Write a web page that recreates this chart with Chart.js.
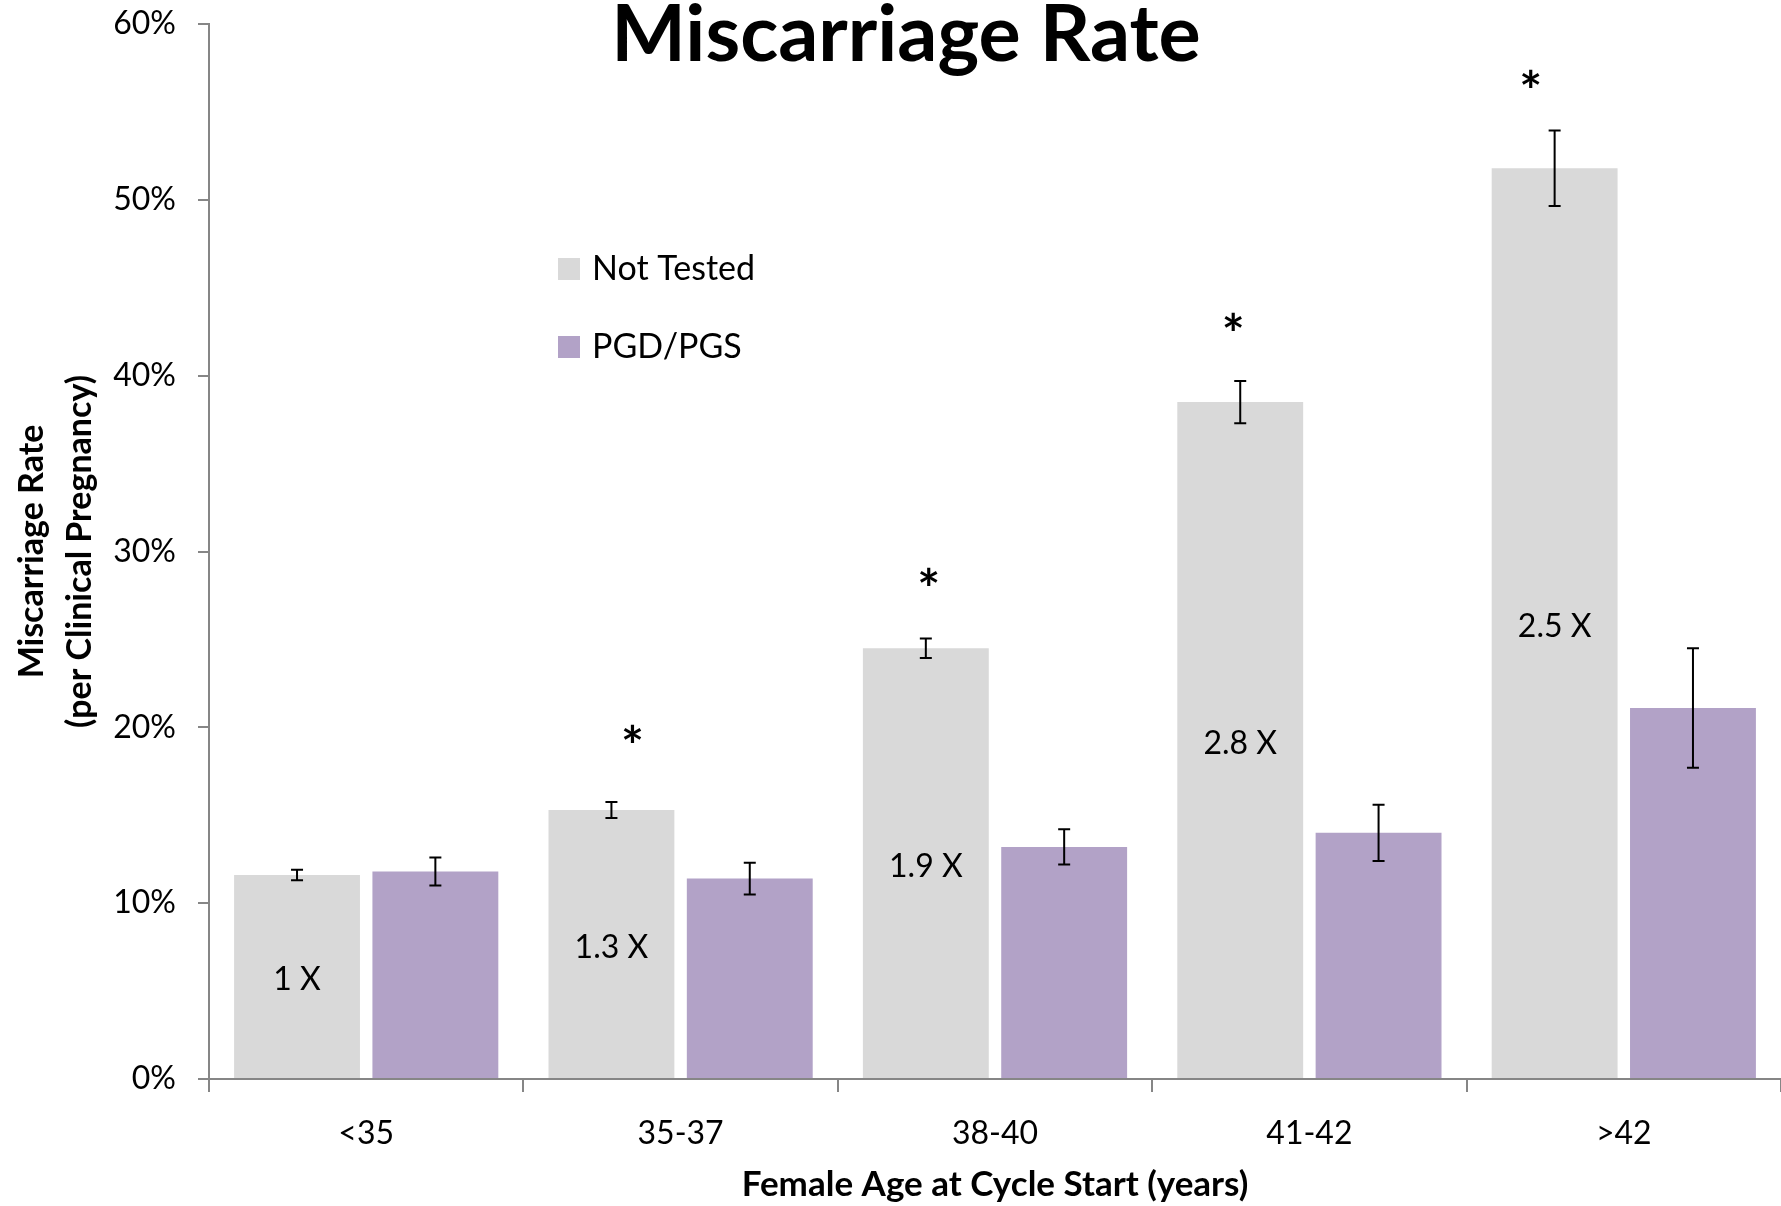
<!DOCTYPE html>
<html>
<head>
<meta charset="utf-8">
<title>Miscarriage Rate</title>
<script src="https://cdn.jsdelivr.net/npm/chart.js@4.4.1/dist/chart.umd.min.js"></script>
<style>
  html, body { margin: 0; padding: 0; background: #fff; }
  #chart { display: block; }
</style>
</head>
<body>
<canvas id="chart" width="1781" height="1206"></canvas>
<script>
// values (percent)
const ageGroups = ["<35", "35-37", "38-40", "41-42", ">42"];
const notTested = [11.6, 15.3, 24.5, 38.5, 51.8];
const notTestedErr = [0.3, 0.45, 0.55, 1.2, 2.15];
const pgdPgs = [11.8, 11.4, 13.2, 14.0, 21.1];
const pgdPgsErr = [0.8, 0.9, 1.0, 1.6, 3.4];
const foldLabels = ["1 X", "1.3 X", "1.9 X", "2.8 X", "2.5 X"];
const significant = [false, true, true, true, true];
const yTicks = [0, 10, 20, 30, 40, 50, 60];

const AXIS_GREY = "#868686";
Chart.defaults.font.family = "Lato, 'Noto Sans', sans-serif";
Chart.defaults.color = "#000";

// title drawn over the top of the plot, like the original
const titlePlugin = {
  id: "bigTitle",
  afterDraw(chart, args, opts) {
    const ctx = chart.ctx;
    ctx.save();
    ctx.font = "bold 79px Lato, sans-serif";
    ctx.fillStyle = "#000";
    ctx.textAlign = "center";
    ctx.textBaseline = "alphabetic";
    ctx.fillText(opts.text, opts.x, opts.y);
    ctx.restore();
  }
};

const errorBars = {
  id: "errorBars",
  afterDatasetsDraw(chart) {
    const ctx = chart.ctx;
    const y = chart.scales.y;
    chart.data.datasets.forEach((ds, i) => {
      const meta = chart.getDatasetMeta(i);
      meta.data.forEach((bar, j) => {
        const v = ds.data[j], e = ds.errors[j];
        const top = y.getPixelForValue(v + e);
        const bot = y.getPixelForValue(v - e);
        ctx.save();
        ctx.strokeStyle = "#000";
        ctx.lineWidth = 2;
        ctx.beginPath();
        ctx.moveTo(bar.x, top); ctx.lineTo(bar.x, bot);
        ctx.moveTo(bar.x - 6, top); ctx.lineTo(bar.x + 6, top);
        ctx.moveTo(bar.x - 6, bot); ctx.lineTo(bar.x + 6, bot);
        ctx.stroke();
        ctx.restore();
      });
    });
  }
};

// "n X" labels in the middle of the grey bars and the * marks
const barNotes = {
  id: "barNotes",
  afterDatasetsDraw(chart, args, opts) {
    const ctx = chart.ctx;
    const y = chart.scales.y;
    const ds = chart.data.datasets[0];
    const meta = chart.getDatasetMeta(0);
    ctx.save();
    ctx.fillStyle = "#000";
    ctx.textAlign = "center";
    ctx.textBaseline = "middle";
    meta.data.forEach((bar, j) => {
      ctx.font = "32px Lato, sans-serif";
      ctx.fillText(foldLabels[j], bar.x, y.getPixelForValue(ds.data[j] / 2) + 3);
      if (significant[j]) {
        const top = y.getPixelForValue(ds.data[j] + ds.errors[j]);
        ctx.font = "bold 54px Lato, sans-serif";
        ctx.fillText("*", bar.x + opts.starDx[j], top - opts.starGap[j] + 12);
      }
    });
    ctx.restore();
  }
};

const insideLegend = {
  id: "insideLegend",
  afterDraw(chart, args, opts) {
    const ctx = chart.ctx;
    ctx.save();
    ctx.textAlign = "left";
    ctx.textBaseline = "middle";
    ctx.font = "34px Lato, sans-serif";
    chart.data.datasets.forEach((ds, i) => {
      const cy = opts.y + i * opts.rowGap;
      ctx.fillStyle = ds.backgroundColor;
      ctx.fillRect(opts.x, cy - 11, 22, 22);
      ctx.fillStyle = "#000";
      ctx.fillText(ds.label, opts.x + 34, cy);
    });
    ctx.restore();
  }
};

new Chart(document.getElementById("chart").getContext("2d"), {
  type: "bar",
  data: {
    labels: ageGroups,
    datasets: [
      {
        label: "Not Tested",
        data: notTested,
        errors: notTestedErr,
        backgroundColor: "#D9D9D9",
        categoryPercentage: 0.88,
        barPercentage: 0.91,
      },
      {
        label: "PGD/PGS",
        data: pgdPgs,
        errors: pgdPgsErr,
        backgroundColor: "#B2A2C7",
        categoryPercentage: 0.88,
        barPercentage: 0.91,
      },
    ],
  },
  options: {
    responsive: false,
    animation: false,
    devicePixelRatio: 1,
    layout: { padding: { top: 24, left: 0, right: 0, bottom: 0 } },
    plugins: {
      legend: { display: false },
      title: { display: false },
      tooltip: { enabled: false },
      bigTitle: { text: "Miscarriage Rate", x: 906, y: 61 },
      barNotes: {
        starDx: [0, 21, 3, -7, -24],
        starGap: [0, 66, 60, 57, 50],
      },
      insideLegend: { x: 558, y: 269, rowGap: 78 },
    },
    scales: {
      x: {
        grid: {
          display: true,
          drawOnChartArea: false,
          drawTicks: true,
          tickLength: 13,
          color: AXIS_GREY,
          lineWidth: 2,
        },
        border: { display: true, color: AXIS_GREY, width: 2 },
        ticks: { font: { size: 32 }, padding: 22, color: "#000" },
        title: {
          display: true,
          text: "Female Age at Cycle Start (years)",
          font: { size: 35, weight: "bold" },
          padding: { top: 0, bottom: 0 },
          color: "#000",
        },
        afterFit: (scale) => { scale.height = 127; },
      },
      y: {
        min: 0,
        max: 60,
        afterBuildTicks: (scale) => {
          scale.ticks = yTicks.map((v) => ({ value: v }));
        },
        grid: {
          display: true,
          drawOnChartArea: false,
          drawTicks: true,
          tickLength: 11,
          color: AXIS_GREY,
          lineWidth: 2,
        },
        border: { display: true, color: AXIS_GREY, width: 2 },
        ticks: {
          font: { size: 32 },
          padding: 22,
          color: "#000",
          callback: (v) => v + "%",
        },
        title: {
          display: true,
          text: ["Miscarriage Rate", "(per Clinical Pregnancy)"],
          font: { size: 34, weight: "bold", lineHeight: 1.42 },
          padding: { top: 8, bottom: 0 },
          color: "#000",
        },
        afterFit: (scale) => {
          scale.width = 209;
          scale.paddingTop = 0;
          scale.paddingBottom = 0;
        },
      },
    },
  },
  plugins: [errorBars, barNotes, insideLegend, titlePlugin],
});
</script>
</body>
</html>
